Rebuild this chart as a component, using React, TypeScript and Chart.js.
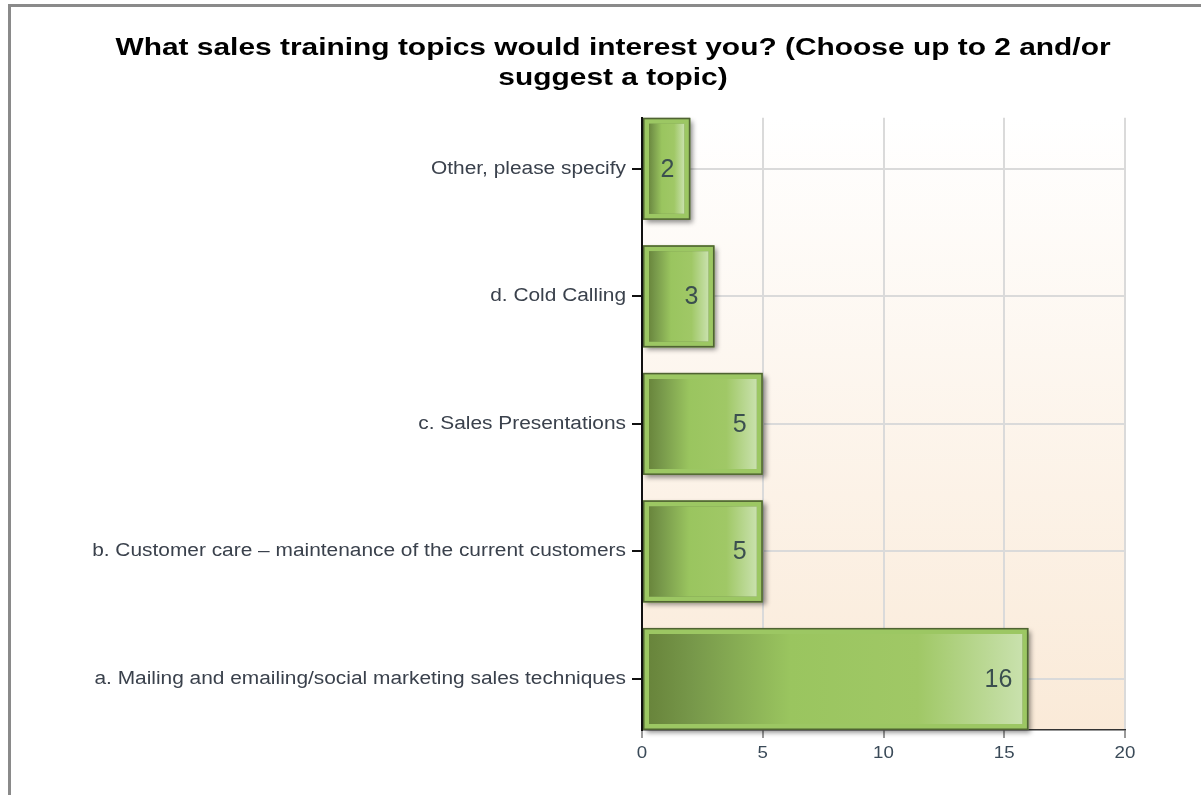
import React, { useEffect, useRef } from "react";
import { Chart, registerables } from "chart.js";

Chart.register(...registerables);

// Bottom to top, as in the survey
const categories = [
  "a. Mailing and emailing/social marketing sales techniques",
  "b. Customer care – maintenance of the current customers",
  "c. Sales Presentations",
  "d. Cold Calling",
  "Other, please specify",
];
const responses = [16, 5, 5, 3, 2];
const xTicks = [0, 5, 10, 15, 20];
const titleLines = [
  "What sales training topics would interest you? (Choose up to 2 and/or",
  "suggest a topic)",
];

const FONT = "'Liberation Sans', Arial, sans-serif";
// horizontal stretch of the text in the reference, by font size
const STRETCH: Record<number, number> = { 23: 1.3, 18: 1.16, 17: 1.1 };

const textStretch = {
  id: "textStretch",
  beforeInit(chart: any) {
    const ctx = chart.ctx;
    if (ctx.__stretched) return;
    ctx.__stretched = true;
    const orig = ctx.fillText.bind(ctx);
    ctx.fillText = function (text: string, x: number, y: number, maxWidth?: number) {
      const m = /(\d+(?:\.\d+)?)px/.exec(ctx.font);
      const size = m ? Math.round(parseFloat(m[1])) : 0;
      const s = STRETCH[size] || 1;
      if (s === 1) {
        return maxWidth === undefined ? orig(text, x, y) : orig(text, x, y, maxWidth);
      }
      ctx.save();
      ctx.translate(x, y);
      ctx.scale(s, 1);
      orig(text, 0, 0);
      ctx.restore();
    };
  },
};

const plotBg = {
  id: "plotBg",
  beforeDraw(chart: any) {
    const { ctx, chartArea: a } = chart;
    if (!a) return;
    const g = ctx.createLinearGradient(0, a.top, 0, a.bottom);
    g.addColorStop(0, "#ffffff");
    g.addColorStop(1, "#faead8");
    ctx.save();
    ctx.fillStyle = g;
    ctx.fillRect(a.left, a.top, a.right - a.left, a.bottom - a.top);
    ctx.restore();
  },
};

const barDeco = {
  id: "barDeco",
  beforeDatasetsDraw(chart: any) {
    const { ctx } = chart;
    const meta = chart.getDatasetMeta(0);
    ctx.save();
    meta.data.forEach((el: any) => {
      const p = el.getProps(["x", "y", "base", "height"], true);
      ctx.shadowColor = "rgba(0,0,0,0.45)";
      ctx.shadowBlur = 5;
      ctx.shadowOffsetX = 3;
      ctx.shadowOffsetY = 3;
      ctx.fillStyle = "#6f8a4a";
      ctx.fillRect(p.base, p.y - p.height / 2, p.x - p.base, p.height);
    });
    ctx.restore();
  },
  afterDatasetsDraw(chart: any) {
    const { ctx } = chart;
    const meta = chart.getDatasetMeta(0);
    ctx.save();
    meta.data.forEach((el: any, i: number) => {
      const p = el.getProps(["x", "y", "base", "height"], true);
      ctx.strokeStyle = "#4f6332";
      ctx.lineWidth = 1.5;
      ctx.strokeRect(p.base + 0.75, p.y - p.height / 2 + 0.75, p.x - p.base - 1.5, p.height - 1.5);
      ctx.fillStyle = "#3b4f4f";
      ctx.font = `25px ${FONT}`;
      ctx.textAlign = "right";
      ctx.textBaseline = "middle";
      ctx.fillText(String(responses[i]), p.x - 16, p.y + 1);
    });
    ctx.restore();
  },
};

export default function App() {
  const ref = useRef<HTMLCanvasElement | null>(null);

  useEffect(() => {
    if (!ref.current) return;
    const chart = new Chart(ref.current, {
      type: "bar",
      data: {
        datasets: [
          {
            data: responses.map((v, i) => ({ x: v, y: i })),
            backgroundColor: (c: any) => {
              const ch = c.chart;
              const xs = ch.scales && ch.scales.x;
              if (!xs || !c.parsed || c.type !== "data") return "#9dc862";
              const x0 = xs.getPixelForValue(0) + 6;
              const x1 = xs.getPixelForValue(c.parsed.x) - 6;
              if (!isFinite(x0) || !isFinite(x1) || x1 <= x0) return "#9dc862";
              const g = ch.ctx.createLinearGradient(x0, 0, x1, 0);
              g.addColorStop(0, "#68843b");
              g.addColorStop(0.12, "#77984a");
              g.addColorStop(0.38, "#9ac55f");
              g.addColorStop(0.72, "#a0c866");
              g.addColorStop(1, "#c9e1ad");
              return g;
            },
            borderColor: "#9cc763",
            borderWidth: 6,
            borderSkipped: false,
            barPercentage: 0.8,
            categoryPercentage: 1,
          },
        ],
      },
      options: {
        indexAxis: "y",
        animation: false,
        responsive: false,
        layout: { padding: { left: 50, right: 25, top: 0, bottom: 0 } },
        plugins: {
          legend: { display: false },
          tooltip: { enabled: false },
          title: {
            display: true,
            text: titleLines,
            color: "#000",
            font: { family: FONT, size: 23, weight: "bold", lineHeight: 1.3 },
            padding: { top: 34, bottom: 24 },
          },
        },
        scales: {
          x: {
            type: "linear",
            min: 0,
            max: 20,
            afterBuildTicks: (s: any) => {
              s.ticks = xTicks.map((v) => ({ value: v }));
            },
            afterFit: (s: any) => {
              s.height = 65;
            },
            ticks: { color: "#3a4a58", font: { family: FONT, size: 17 }, padding: 5 },
            grid: { color: "#dadada", lineWidth: 2, tickLength: 8, tickColor: "#9a9a9a" },
            border: { color: "#333", width: 1.5 },
          },
          y: {
            type: "linear",
            min: -0.4,
            max: 4.4,
            offset: false,
            afterBuildTicks: (s: any) => {
              s.ticks = categories.map((_, i) => ({ value: i }));
            },
            afterFit: (s: any) => {
              s.width = 592;
            },
            ticks: {
              autoSkip: false,
              color: "#3a414c",
              font: { family: FONT, size: 18 },
              padding: 6,
              callback: (v: any) => categories[v as number] ?? "",
            },
            grid: { offset: false, color: "#dadada", lineWidth: 2, tickLength: 10, tickColor: "#111" },
            border: { color: "#111", width: 2 },
          },
          yr: {
            type: "linear",
            position: "right",
            display: true,
            afterFit: (s: any) => {
              s.width = 51;
            },
            ticks: { display: false },
            grid: { display: false },
            border: { display: false },
          },
        },
      },
      plugins: [textStretch, plotBg, barDeco],
    });
    return () => chart.destroy();
  }, []);

  return (
    <div>
      <div
        style={{
          position: "fixed",
          left: 8,
          top: 4,
          width: 1300,
          height: 900,
          borderLeft: "3px solid #8a8a8a",
          borderTop: "3px solid #8a8a8a",
          boxSizing: "border-box",
        }}
      />
      <canvas
        ref={ref}
        width={1201}
        height={795}
        style={{ position: "fixed", left: 0, top: 0, width: 1201, height: 795 }}
      />
    </div>
  );
}
